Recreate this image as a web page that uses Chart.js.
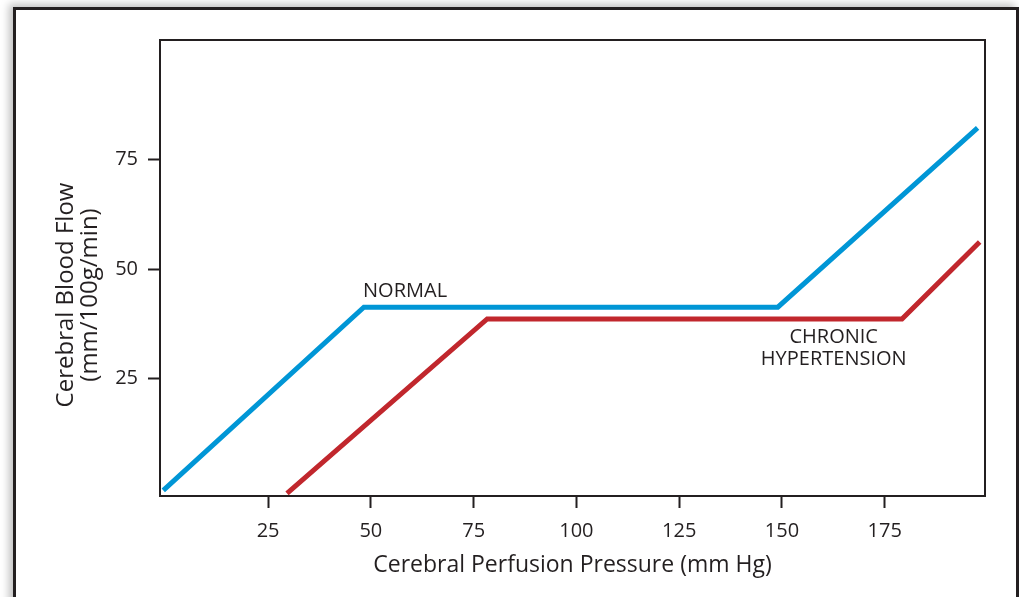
<!DOCTYPE html>
<html lang="en">
  <head>
    <meta charset="UTF-8" />
    <title>Cerebral Autoregulation</title>
    <script src="https://cdn.jsdelivr.net/npm/chart.js"></script>
    <style>
      html, body { margin: 0; padding: 0; background: #fff; overflow: hidden; }
      body { width: 1019px; height: 597px; position: relative; }
      .frame {
        position: absolute; left: 13px; top: 7px; width: 1000px; height: 700px;
        border: 3px solid #231f20;
        box-shadow: -4px -3px 8px rgba(0, 0, 0, 0.25);
      }
      #chart { position: absolute; left: 0; top: 0; }
    </style>
  </head>
  <body>
    <div class="frame"></div>
    <canvas id="chart" width="1019" height="597"></canvas>

    <script>
      // data
      const normalX = [-0.5, 48.3, 149, 197.6];
      const normalY = [-0.6, 41.3, 41.3, 82.3];
      const chronicX = [29.6, 78.3, 179.2, 198.1];
      const chronicY = [-1.3, 38.6, 38.6, 56.2];

      const xTicks = [25, 50, 75, 100, 125, 150, 175];
      const yTicks = [25, 50, 75];

      const xTitle = "Cerebral Perfusion Pressure (mm Hg)";
      const yTitle = ["Cerebral Blood Flow", "(mm/100g/min)"];

      // [text, x, y] in data units
      const notes = [
        ["NORMAL", 48.1, 43.6, "left"],
        ["CHRONIC", 162.6, 33.2, "center"],
        ["HYPERTENSION", 162.6, 28.0, "center"],
      ];

      const ink = "#231f20";
      const font = '"Open Sans", "Noto Sans", sans-serif';

      const toPts = (xs, ys) => xs.map((x, i) => ({ x: x, y: ys[i] }));

      // box around plot, annotations and the rotated y title
      const extras = {
        id: "extras",
        afterDraw(chart) {
          const { ctx, chartArea: a, scales } = chart;
          ctx.save();
          ctx.strokeStyle = ink;
          ctx.lineWidth = 2;
          ctx.strokeRect(a.left, a.top, a.right - a.left, a.bottom - a.top);

          ctx.fillStyle = ink;
          ctx.font = "20px " + font;
          ctx.textBaseline = "alphabetic";
          notes.forEach(([t, x, y, al]) => {
            ctx.textAlign = al;
            ctx.fillText(t, scales.x.getPixelForValue(x), scales.y.getPixelForValue(y));
          });

          ctx.font = "24px " + font;
          ctx.textAlign = "center";
          ctx.translate(0, 295);
          ctx.rotate(-Math.PI / 2);
          ctx.fillText(yTitle[0], 0, 73);
          ctx.fillText(yTitle[1], 0, 97);
          ctx.restore();
        },
      };

      new Chart(document.getElementById("chart"), {
        type: "line",
        data: {
          datasets: [
            {
              label: "Normal",
              data: toPts(normalX, normalY),
              borderColor: "#0096d6",
              borderWidth: 5,
            },
            {
              label: "Chronic hypertension",
              data: toPts(chronicX, chronicY),
              borderColor: "#c1272d",
              borderWidth: 5,
            },
          ],
        },
        options: {
          responsive: false,
          animation: false,
          events: [],
          elements: {
            point: { radius: 0 },
            line: { tension: 0, borderJoinStyle: "miter", borderCapStyle: "butt" },
          },
          layout: { padding: { top: 40, right: 34, left: 0, bottom: 0 } },
          plugins: { legend: { display: false }, tooltip: { enabled: false } },
          scales: {
            x: {
              type: "linear",
              min: -1.3,
              max: 199.4,
              afterBuildTicks: (s) => { s.ticks = xTicks.map((v) => ({ value: v })); },
              afterFit: (s) => { s.height = 101; },
              border: { display: false },
              grid: { drawOnChartArea: false, tickLength: 12, tickColor: ink, tickWidth: 2 },
              ticks: { color: ink, font: { family: font, size: 20 }, padding: 11, maxRotation: 0 },
              title: {
                display: true,
                text: xTitle,
                color: ink,
                font: { family: font, size: 23 },
                padding: { top: 0, bottom: 18 },
              },
            },
            y: {
              type: "linear",
              min: -1.9,
              max: 102.4,
              afterBuildTicks: (s) => { s.ticks = yTicks.map((v) => ({ value: v })); },
              afterFit: (s) => { s.width = 160; },
              border: { display: false },
              grid: { drawOnChartArea: false, tickLength: 12, tickColor: ink, tickWidth: 2 },
              ticks: { color: ink, font: { family: font, size: 20 }, padding: 10 },
            },
          },
        },
        plugins: [extras],
      });
    </script>
  </body>
</html>
